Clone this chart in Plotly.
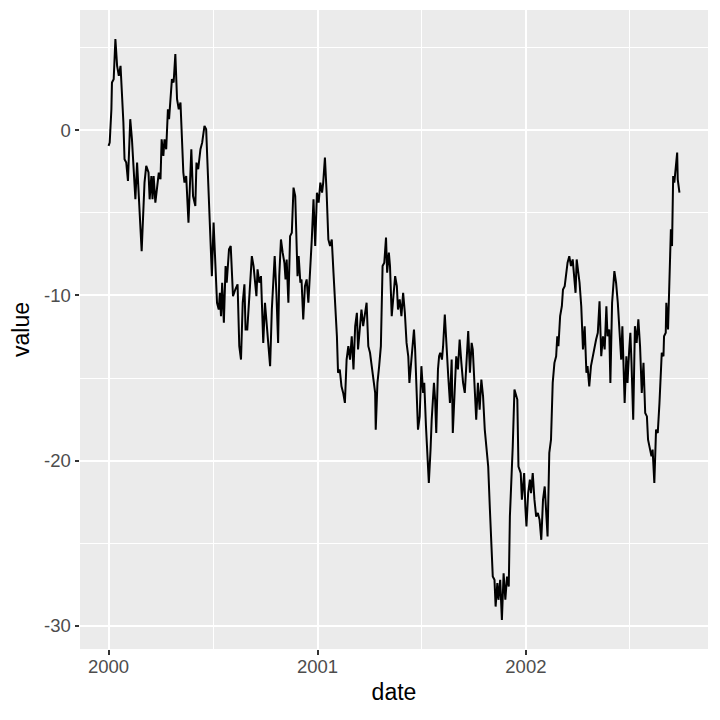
import pandas as pd
import plotly.graph_objects as go

start_date = "2000-01-01"

# days since start_date
day_offsets = [
    0, 2, 5, 6, 9, 12, 15, 18, 21, 23, 26, 28, 31, 34, 36, 38, 41, 44, 47, 50,
    53, 56, 58, 61, 63, 66, 70, 72, 75, 77, 79, 82, 85, 88, 91, 93, 96, 98, 101, 104,
    106, 108, 111, 114, 117, 120, 123, 126, 128, 131, 133, 136, 140, 142, 145, 148, 152, 154, 157, 161,
    164, 168, 171, 173, 175, 178, 181, 184, 187, 190, 193, 195, 197, 199, 202, 205, 207, 211, 214, 216,
    218, 222, 226, 229, 232, 235, 238, 240, 243, 247, 251, 254, 257, 259, 261, 264, 267, 269, 271, 274,
    277, 280, 283, 286, 289, 291, 294, 297, 299, 302, 305, 308, 310, 312, 315, 318, 321, 324, 327, 329,
    331, 333, 336,
    338, 341, 344, 347, 350, 353, 356, 359, 362, 365, 368, 371, 374, 376, 379, 382, 385, 388, 391, 394,
    397, 400, 402, 405, 408, 411, 414, 417, 420, 423, 426, 429, 432, 435, 437, 440, 443, 446, 449, 452,
    455, 458, 461, 464, 467, 468, 471, 474, 477, 480, 483, 486, 488, 491, 493, 496, 499, 502, 505, 507,
    510, 513, 516, 519, 522, 525, 527,
    531, 535, 537, 539, 542, 545, 548, 551, 553, 556, 558, 561, 564, 566, 570, 572, 574, 577, 579, 581,
    584, 586, 589, 592, 595, 598, 601, 603, 606, 609, 612, 615, 618, 621, 624, 627, 630, 633, 636, 638,
    641, 644, 647, 650, 653, 656, 659, 662, 665, 668, 671, 673, 676, 678, 681, 683, 686, 689, 692, 695,
    698, 701, 703, 706, 708, 711,
    716, 718, 722, 724, 728, 730, 732, 735, 738, 740, 743, 746, 749, 752, 755, 758, 761, 764, 767, 769,
    772, 775, 778, 781, 784, 786, 788, 791, 794, 796, 799, 802, 804, 807, 810, 813, 816, 818, 820, 822,
    825, 828, 831, 834, 837, 839, 842, 845, 848, 851, 854, 857, 860, 863, 866, 869, 872, 874, 877, 879,
    882, 886,
    889, 892, 895, 898, 900, 902, 904, 907, 909, 912, 914, 916, 919, 922, 925, 928, 931, 934, 937, 940,
    943, 945, 948, 951, 953, 956, 959, 962, 965, 968, 969, 972, 973, 976, 977, 980, 982, 985, 987, 989,
    991, 994, 996, 997, 1000,
]

values = [
    -0.95, -0.75, 1.27, 2.89, 3.09, 5.52, 3.90, 3.29, 3.90, 2.68, 0.47, -1.76, -1.96, -3.07, -1.15, 0.67, -0.55, -2.36, -4.18, -1.96,
    -4.38, -6.00, -7.32, -5.19, -3.17, -2.16, -2.56, -4.18, -2.77, -4.18, -2.77, -4.38, -3.38, -2.56, -2.97, -0.55, -1.56, -0.55, -1.15, 1.27,
    0.67, 1.47, 3.09, 2.89, 4.61, 1.88, 1.27, 1.68, -0.14, -2.56, -3.17, -2.77, -5.59, -3.58, -1.15, -3.98, -4.59, -1.96, -2.36, -1.15,
    -0.75, 0.26, 0.06, -1.76, -3.78, -6.81, -8.83, -5.59, -7.82, -10.44, -10.85, -9.84, -11.25, -9.23, -11.65, -8.22, -9.23, -7.21, -7.01, -8.22,
    -10.04, -9.64, -9.33, -13.07, -13.88, -10.44, -9.33, -12.06, -12.06, -9.84, -7.62, -8.22, -9.44, -10.04, -8.42, -9.23, -8.83, -10.85, -12.87, -10.44,
    -11.65, -13.27, -14.28, -10.85, -9.03, -7.62, -9.84, -12.87, -8.83, -6.61, -7.41, -8.02, -9.03, -7.82, -10.44, -6.41, -6.20, -3.47, -3.98, -5.80,
    -8.83, -7.62, -9.23,
    -9.03, -11.45, -9.44, -9.03, -10.44, -8.62, -6.61, -4.18, -7.01, -3.78, -4.38, -3.17, -3.78, -3.17, -1.65, -3.78, -6.61, -7.01, -6.61, -8.62,
    -10.24, -12.47, -14.68, -14.48, -15.50, -15.90, -16.50, -13.88, -13.07, -13.88, -12.47, -14.48, -11.86, -11.05, -13.27, -11.86, -10.85, -11.86, -11.05, -10.44,
    -13.07, -13.47, -14.28, -15.09, -15.90, -18.12, -15.29, -14.28, -13.07, -8.22, -8.02, -6.50, -8.62, -7.41, -8.22, -11.25, -10.24, -8.83, -9.44, -10.85,
    -10.24, -11.25, -9.84, -11.05, -12.87, -13.68, -15.29,
    -13.68, -12.06, -13.27, -15.70, -18.12, -17.32, -14.28, -15.90, -15.29, -17.92, -19.53, -21.35, -19.33, -17.52, -15.29, -16.30, -18.32, -14.48, -13.68, -13.47,
    -13.88, -13.07, -11.15, -13.27, -14.89, -16.50, -13.88, -18.32, -16.10, -13.68, -14.48, -12.67, -14.08, -15.29, -15.90, -13.68, -12.16, -14.68, -12.87, -13.27,
    -15.70, -17.52, -15.29, -16.91, -15.09, -16.10, -18.12, -19.33, -20.35, -22.97, -25.80, -27.01, -27.21, -28.83, -27.41, -28.42, -27.21, -29.64, -26.81, -28.42,
    -27.01, -27.62, -23.38, -20.95, -19.13, -15.70,
    -16.30, -20.35, -20.75, -22.36, -20.75, -22.77, -23.98, -21.96, -21.15, -21.96, -20.75, -22.36, -23.38, -23.17, -23.58, -24.79, -22.36, -21.56, -23.38, -24.59,
    -19.53, -18.73, -15.29, -14.08, -13.68, -12.47, -13.07, -11.25, -10.65, -9.64, -9.44, -8.62, -8.02, -7.62, -8.22, -7.82, -8.83, -9.84, -7.82, -8.42,
    -9.23, -10.65, -13.27, -11.86, -14.68, -14.28, -15.50, -14.28, -13.68, -13.07, -12.67, -12.26, -10.35, -13.68, -12.47, -13.27, -10.65, -12.47, -12.06, -15.29,
    -10.44, -8.53,
    -9.23, -10.44, -12.06, -13.88, -11.86, -14.48, -16.50, -13.68, -15.29, -13.27, -12.26, -14.08, -17.52, -11.86, -12.87, -11.45, -13.07, -15.90, -14.08, -17.11,
    -17.32, -18.73, -19.33, -19.74, -19.33, -21.35, -18.12, -18.32, -16.50, -14.08, -13.47, -13.68, -12.47, -12.26, -10.44, -12.06, -9.64, -6.00, -7.01, -2.77,
    -3.17, -1.96, -1.35, -2.97, -3.78,
]

assert len(day_offsets) == len(values)

x_tick_dates = ["2000-01-01", "2001-01-01", "2002-01-01"]
x_tick_labels = ["2000", "2001", "2002"]
x_minor_dates = ["2000-07-02", "2001-07-02", "2002-07-02"]
y_tick_vals = [-30, -20, -10, 0]
y_tick_labels = ["-30", "-20", "-10", "0"]
y_minor_vals = [-25, -15, -5, 5]

t0 = pd.Timestamp(start_date)
dates = t0 + pd.to_timedelta(day_offsets, unit="D")

# ggplot-like 5% expansion
span = dates.max() - dates.min()
x_range = [(dates.min() - span * 0.05).strftime("%Y-%m-%d %H:%M"),
           (dates.max() + span * 0.05).strftime("%Y-%m-%d %H:%M")]
vmin, vmax = min(values), max(values)
vpad = (vmax - vmin) * 0.05
y_range = [vmin - vpad, vmax + vpad]

fig = go.Figure()
fig.add_trace(go.Scatter(
    x=dates, y=values, mode="lines",
    line=dict(color="black", width=2),
    hoverinfo="skip", showlegend=False,
))

font_family = "Liberation Sans, Arial, sans-serif"
fig.update_layout(
    width=720, height=720,
    paper_bgcolor="white",
    plot_bgcolor="#EBEBEB",
    margin=dict(l=72, r=20, t=2, b=79),
    font=dict(family=font_family, color="#4D4D4D"),
    showlegend=False,
)
fig.update_xaxes(
    type="date",
    range=x_range,
    tickmode="array", tickvals=x_tick_dates, ticktext=x_tick_labels,
    tickfont=dict(size=18.5, color="#4D4D4D"),
    ticks="outside", ticklen=4.5, tickwidth=1.5, tickcolor="#333333",
    ticklabelstandoff=-4,
    showgrid=True, gridcolor="white", gridwidth=2.2,
    minor=dict(tickmode="array", tickvals=x_minor_dates, showgrid=True,
               gridcolor="white", gridwidth=1.1, ticks=""),
    zeroline=False, showline=False,
    title=dict(text="date", font=dict(size=23, color="black"), standoff=8),
    automargin=False,
)
fig.update_yaxes(
    range=y_range,
    tickmode="array", tickvals=y_tick_vals, ticktext=y_tick_labels,
    tickfont=dict(size=18.5, color="#4D4D4D"),
    ticks="outside", ticklen=4.5, tickwidth=1.5, tickcolor="#333333",
    showgrid=True, gridcolor="white", gridwidth=2.2,
    minor=dict(tickmode="array", tickvals=y_minor_vals, showgrid=True,
               gridcolor="white", gridwidth=1.1, ticks=""),
    zeroline=False, showline=False,
    title=dict(text="value", font=dict(size=23, color="black"), standoff=8),
    automargin=False,
)

fig.write_html("out.html")
